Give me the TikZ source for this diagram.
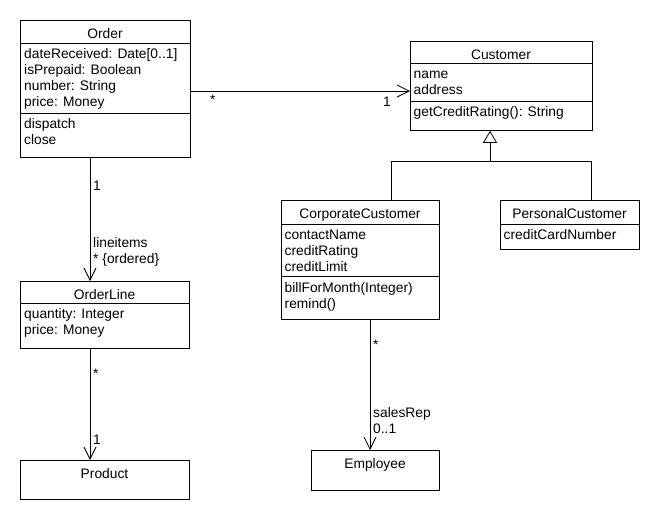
\documentclass[tikz,border=0pt]{standalone}
\usepackage{fontspec}
\setmainfont{Liberation Sans}
\usetikzlibrary{arrows.meta}
\begin{document}
\begin{tikzpicture}[x=1pt,y=-1pt,
  cls/.style={draw, line width=0.8pt, inner sep=0pt, anchor=north west},
  txt/.style={anchor=base west, inner sep=0pt, font=\fontsize{13.8}{16}\selectfont},
  ttl/.style={anchor=base, inner sep=0pt, font=\fontsize{13.8}{16}\selectfont},
  conn/.style={line width=0.8pt},
  assoc/.style={conn, -{Straight Barb[length=12pt,width=12pt]}},
  genarrow/.style={conn, -{Triangle[open,length=12pt,width=14pt]}},
]
\useasboundingbox[fill=white] (0,0) rectangle (660,520);

% class boxes
\node[cls, minimum width=170pt, minimum height=137pt] (Order) at (20,20) {};
\node[cls, minimum width=182pt, minimum height=89pt] (Customer) at (410,41) {};
\node[cls, minimum width=158pt, minimum height=119pt] (Corp) at (281,200) {};
\node[cls, minimum width=139pt, minimum height=49pt] (Personal) at (500,200) {};
\node[cls, minimum width=169pt, minimum height=67pt] (OrderLine) at (20,281) {};
\node[cls, minimum width=169pt, minimum height=39pt] (Product) at (20,460) {};
\node[cls, minimum width=128pt, minimum height=40pt] (Employee) at (311,450) {};

% compartments
\draw[conn] (20,43) -- (190,43);
\draw[conn] (20,113) -- (190,113);
\draw[conn] (410,63) -- (592,63);
\draw[conn] (410,101) -- (592,101);
\draw[conn] (281,224) -- (439,224);
\draw[conn] (281,276) -- (439,276);
\draw[conn] (500,224) -- (639,224);
\draw[conn] (20,303) -- (189,303);

% Order
\node[ttl] (OrderT) at (105,38.5) {Order};
\node[txt] (o1) at (24,58) {dateReceived: Date[0..1]};
\node[txt] (o2) at (24,74) {isPrepaid: Boolean};
\node[txt] (o3) at (24,90) {number: String};
\node[txt] (o4) at (24,106) {price: Money};
\node[txt] (o5) at (24,128) {dispatch};
\node[txt] (o6) at (24,144) {close};

% Customer
\node[ttl] (CustomerT) at (501,59) {Customer};
\node[txt] (c1) at (413.5,78) {name};
\node[txt] (c2) at (413.5,94) {address};
\node[txt] (c3) at (413.5,116) {getCreditRating(): String};

% CorporateCustomer
\node[ttl] (CorpT) at (360,218.5) {CorporateCustomer};
\node[txt] (cc1) at (284.5,239) {contactName};
\node[txt] (cc2) at (284.5,255) {creditRating};
\node[txt] (cc3) at (284.5,271) {creditLimit};
\node[txt] (cc4) at (284.5,292) {billForMonth(Integer)};
\node[txt] (cc5) at (284.5,308) {remind()};

% PersonalCustomer
\node[ttl] (PersonalT) at (569.5,218.5) {PersonalCustomer};
\node[txt] (p1) at (503.5,239) {creditCardNumber};

% OrderLine
\node[ttl] (OrderLineT) at (104.5,299) {OrderLine};
\node[txt] (ol1) at (24,318) {quantity: Integer};
\node[txt] (ol2) at (24,334) {price: Money};

% Product, Employee
\node[ttl] (ProductT) at (104.5,478.3) {Product};
\node[ttl] (EmployeeT) at (375,468.3) {Employee};

% helper coordinates
\coordinate (x90) at (90,0);
\coordinate (x370) at (370,0);
\coordinate (x391) at (391,0);
\coordinate (x591) at (591,0);
\coordinate (y91) at (0,91);
\coordinate (gj) at (490,161);

% connectors
\draw[assoc] (Order.east |- y91) -- (Customer.west |- y91);
\draw[assoc] (Order.south -| x90) -- (OrderLine.north -| x90);
\draw[assoc] (OrderLine.south -| x90) -- (Product.north -| x90);
\draw[assoc] (Corp.south -| x370) -- (Employee.north -| x370);
\draw[genarrow] (gj) -- (Customer.south -| gj);
\draw[conn] (Corp.north -| x391) |- (gj);
\draw[conn] (Personal.north -| x591) |- (gj);

% labels
\node[txt] (l1) at (210,104) {*};
\node[txt] (l2) at (383,106) {1};
\node[txt] (l3) at (93,190) {1};
\node[txt] (l4) at (93,247) {lineitems};
\node[txt] (l5) at (93,263) {* \{ordered\}};
\node[txt] (l6) at (93,378) {*};
\node[txt] (l7) at (93,444) {1};
\node[txt] (l8) at (373,349) {*};
\node[txt] (l9) at (373,417) {salesRep};
\node[txt] (l10) at (373,433) {0..1};
\end{tikzpicture}
\end{document}
